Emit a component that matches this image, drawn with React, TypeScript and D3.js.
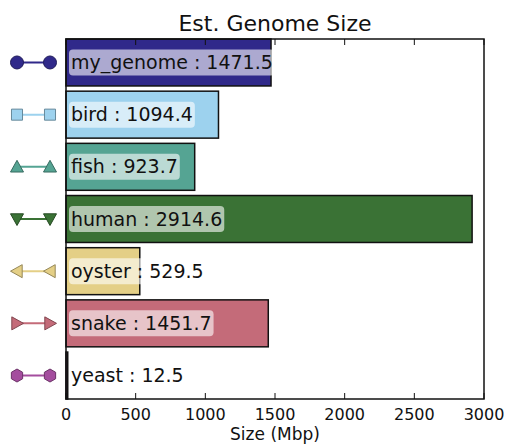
import React, { useEffect, useRef } from "react";
import * as d3 from "d3";

const species = ["my_genome", "bird", "fish", "human", "oyster", "snake", "yeast"];
const sizes = [1471.5, 1094.4, 923.7, 2914.6, 529.5, 1451.7, 12.5];
const colors = ["#30298a", "#9dd2ee", "#55a493", "#3a7235", "#e4cf86", "#c46b79", "#a44d9e"];
const markers = ["circle", "square", "triangle", "triangleDown", "triangleLeft", "triangleRight", "hexagon"];
const xTicks = [0, 500, 1000, 1500, 2000, 2500, 3000];

const size = { width: 505, height: 445, left: 66, right: 484, top: 39, bottom: 399 };

const markerPath = (kind: string, r: number) => {
  const poly = (pts: number[][]) => "M" + pts.map(p => p.join(",")).join("L") + "Z";
  switch (kind) {
    case "circle":
      return d3.symbol(d3.symbolCircle, Math.PI * r * r)()!;
    case "square":
      return poly([[-r * 0.85, -r * 0.85], [r * 0.85, -r * 0.85], [r * 0.85, r * 0.85], [-r * 0.85, r * 0.85]]);
    case "triangle":
      return poly([[0, -r], [r, r * 0.8], [-r, r * 0.8]]);
    case "triangleDown":
      return poly([[0, r], [r, -r * 0.8], [-r, -r * 0.8]]);
    case "triangleLeft":
      return poly([[-r, 0], [r * 0.8, -r], [r * 0.8, r]]);
    case "triangleRight":
      return poly([[r, 0], [-r * 0.8, -r], [-r * 0.8, r]]);
    default:
      return poly(d3.range(6).map(i => {
        const a = (i * Math.PI) / 3 + Math.PI / 6;
        return [r * Math.cos(a), r * Math.sin(a)];
      }));
  }
};

const App = () => {
  const ref = useRef<SVGGElement>(null);

  useEffect(() => {
    const g = d3.select(ref.current);
    g.selectAll("*").remove();

    const x = d3.scaleLinear().domain([0, 3000]).range([size.left, size.right]);
    const y = d3
      .scaleBand()
      .domain(species)
      .range([size.top, size.bottom])
      .paddingInner(0.1)
      .paddingOuter(0);

    const font = "DejaVu Sans, sans-serif";

    g.selectAll("rect.bar")
      .data(species)
      .enter()
      .append("rect")
      .attr("class", "bar")
      .attr("x", x(0))
      .attr("y", d => y(d)!)
      .attr("width", (d, i) => x(sizes[i]) - x(0))
      .attr("height", y.bandwidth())
      .attr("fill", (d, i) => colors[i])
      .attr("stroke", "#111")
      .attr("stroke-width", 1.5);

    // labels with rounded white boxes
    species.forEach((d, i) => {
      const cy = y(d)! + y.bandwidth() / 2;
      const t = g
        .append("text")
        .attr("x", x(0) + 5)
        .attr("y", cy)
        .attr("dy", "0.35em")
        .style("font-family", font)
        .style("font-size", "19px")
        .attr("fill", "#111")
        .text(`${d} : ${sizes[i]}`);
      const bb = (t.node() as SVGTextElement).getBBox();
      g.insert("rect", () => t.node())
        .attr("x", bb.x - 2)
        .attr("y", cy - 13)
        .attr("width", bb.width + 4)
        .attr("height", 26)
        .attr("rx", 4)
        .attr("fill", "white")
        .attr("fill-opacity", 0.6);
    });

    // legend-like markers on the left
    species.forEach((d, i) => {
      const cy = y(d)! + y.bandwidth() / 2;
      g.append("line")
        .attr("x1", 17)
        .attr("x2", 50)
        .attr("y1", cy)
        .attr("y2", cy)
        .attr("stroke", colors[i])
        .attr("stroke-width", 2);
      [17, 50].forEach(mx => {
        g.append("path")
          .attr("d", markerPath(markers[i], 6.5))
          .attr("transform", `translate(${mx},${cy})`)
          .attr("fill", colors[i])
          .attr("stroke", d3.color(colors[i])!.darker(1.2).toString())
          .attr("stroke-width", 1);
      });
    });

    // ticks inside on top and bottom
    xTicks.forEach(v => {
      g.append("line")
        .attr("x1", x(v)).attr("x2", x(v))
        .attr("y1", size.bottom).attr("y2", size.bottom - 6)
        .attr("stroke", "#111");
      g.append("line")
        .attr("x1", x(v)).attr("x2", x(v))
        .attr("y1", size.top).attr("y2", size.top + 6)
        .attr("stroke", "#111");
      g.append("text")
        .attr("x", x(v))
        .attr("y", size.bottom + 21)
        .attr("text-anchor", "middle")
        .style("font-family", font)
        .style("font-size", "16px")
        .attr("fill", "#111")
        .text(v);
    });

    g.append("rect")
      .attr("x", size.left)
      .attr("y", size.top)
      .attr("width", size.right - size.left)
      .attr("height", size.bottom - size.top)
      .attr("fill", "none")
      .attr("stroke", "#111")
      .attr("stroke-width", 1.5);

    g.append("text")
      .attr("x", (size.left + size.right) / 2)
      .attr("y", 31)
      .attr("text-anchor", "middle")
      .style("font-family", font)
      .style("font-size", "22px")
      .attr("fill", "#111")
      .text("Est. Genome Size");

    g.append("text")
      .attr("x", (size.left + size.right) / 2)
      .attr("y", 440)
      .attr("text-anchor", "middle")
      .style("font-family", font)
      .style("font-size", "17px")
      .attr("fill", "#111")
      .text("Size (Mbp)");
  }, []);

  return (
    <svg
      width={size.width}
      height={size.height}
      style={{ position: "absolute", left: 0, top: 0, background: "white" }}
    >
      <g ref={ref} />
    </svg>
  );
};

export default App;
